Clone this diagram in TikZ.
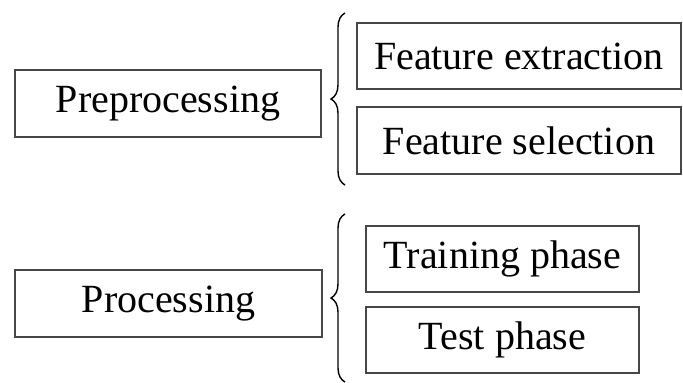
\documentclass[tikz,border=0pt]{standalone}
\usepackage{fontspec}
\setmainfont{Liberation Serif}
\usetikzlibrary{decorations.pathreplacing}
\begin{document}
\begin{tikzpicture}[x=1pt, y=-1pt,
  stagebox/.style={draw=black!72, line width=1.3pt, inner sep=0pt,
    font=\fontsize{40}{44}\selectfont, text=black},
  curly/.style={decorate, decoration={brace, amplitude=14pt}, line width=1.4pt}]
  \useasboundingbox (0,0) rectangle (683,383);

  % upper group
  \node[stagebox, minimum width=306pt, minimum height=67pt] (pre) at (168,103.5) {Preprocessing};
  \node[stagebox, minimum width=324pt, minimum height=66pt] (fext) at (519,56) {Feature extraction};
  \node[stagebox, minimum width=324pt, minimum height=67pt] (fsel) at (519,140.5) {Feature selection};
  \coordinate (b1top) at (345,13);
  \coordinate (b1bot) at (345,185);
  \draw[curly] (b1bot) -- (b1top);

  % lower group
  \node[stagebox, minimum width=307pt, minimum height=67pt] (proc) at (168.5,303.5) {Processing};
  \node[stagebox, minimum width=273pt, minimum height=66pt] (train) at (502.5,259) {Training phase};
  \node[stagebox, minimum width=273pt, minimum height=66pt] (test) at (502.5,340) {Test phase};
  \coordinate (b2top) at (345,214);
  \coordinate (b2bot) at (345,382);
  \draw[curly] (b2bot) -- (b2top);
\end{tikzpicture}
\end{document}
